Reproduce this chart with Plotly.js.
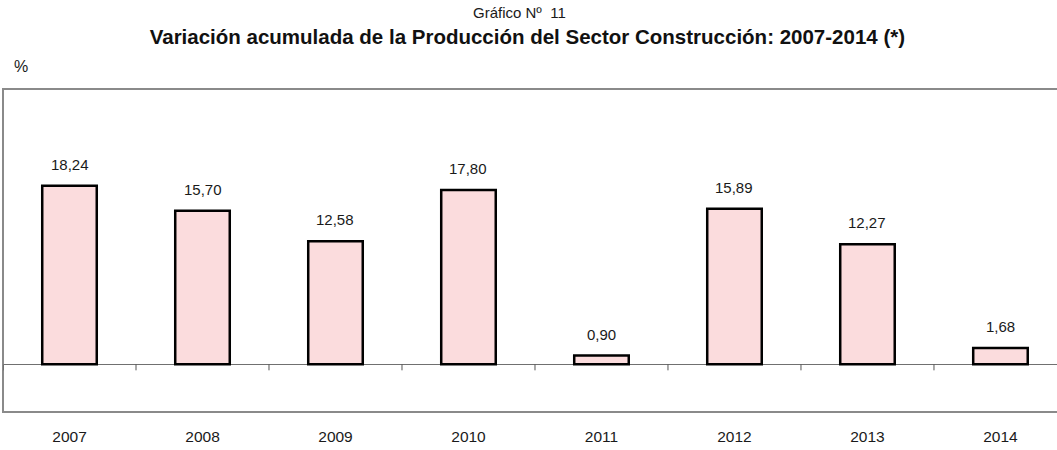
<!DOCTYPE html>
<html>
<head>
<meta charset="utf-8">
<script src="https://cdn.plot.ly/plotly-3.0.1.min.js"></script>
<style>html,body{margin:0;padding:0;background:#fff;}#chart{width:1057px;height:450px;}</style>
</head>
<body>
<div id="chart"></div>
<script>
const years = ["2007","2008","2009","2010","2011","2012","2013","2014"];
const values = [18.24, 15.70, 12.58, 17.80, 0.90, 15.89, 12.27, 1.68];
const chartNumber = "Gráfico Nº  11";
const chartTitle = "Variación acumulada de la Producción del Sector Construcción: 2007-2014 (*)";
const unitLabel = "%";

const FONT = '"Liberation Sans", Arial, sans-serif';

const fmt = v => v.toFixed(2).replace('.', ',');
const idx = years.map((y, i) => i);
const boundaries = years.map((y, i) => i - 0.5);

const trace = {
  type: 'bar',
  x: idx,
  y: values,
  width: 0.41,
  marker: {color: '#fbdcdd', line: {color: '#000000', width: 2.5}},
  hoverinfo: 'none'
};

const labelAnns = idx.map(i => ({
  x: i, y: values[i], xref: 'x', yref: 'y',
  text: fmt(values[i]), showarrow: false,
  yanchor: 'bottom', yshift: 11,
  font: {family: FONT, size: 15, color: '#1a1a1a'}
}));

const tickShapes = boundaries.map(b => ({
  type: 'line', xref: 'x', yref: 'y', ysizemode: 'pixel', yanchor: 0,
  x0: b, x1: b, y0: 0, y1: -6,
  line: {color: '#555555', width: 1}, layer: 'above'
}));

const layout = {
  width: 1057, height: 450,
  margin: {l: 3, r: 0, t: 89, b: 38},
  paper_bgcolor: '#ffffff', plot_bgcolor: '#ffffff',
  showlegend: false,
  font: {family: FONT, color: '#1a1a1a'},
  title: {
    text: '<b>' + chartTitle + '</b>',
    font: {family: FONT, size: 20.5, color: '#111'},
    x: 0.4975, xanchor: 'center', xref: 'paper', y: 0.918, yanchor: 'middle', yref: 'container'
  },
  xaxis: {
    type: 'linear',
    range: [-0.5, 7.425],
    tickmode: 'array', tickvals: idx, ticktext: years,
    showgrid: false, zeroline: false, showline: false,
    ticks: 'outside', ticklen: 10, tickcolor: 'rgba(0,0,0,0)',
    tickfont: {family: FONT, size: 15.5, color: '#1a1a1a'},
    fixedrange: true
  },
  yaxis: {
    range: [-4.87, 28.13],
    showgrid: false, showticklabels: false, ticks: '',
    zeroline: true, zerolinecolor: '#707070', zerolinewidth: 1,
    showline: false, fixedrange: true
  },
  shapes: [
    {type: 'rect', xref: 'paper', yref: 'paper', x0: 0, x1: 1.02, y0: 0, y1: 1,
     line: {color: '#8a8a8a', width: 2}, fillcolor: 'rgba(0,0,0,0)', layer: 'above'}
  ].concat(tickShapes),
  annotations: [
    {text: chartNumber, xref: 'paper', yref: 'paper', x: 0.4905, y: 1.238, xanchor: 'center', yanchor: 'middle',
     showarrow: false, font: {family: FONT, size: 15, color: '#1a1a1a'}},
    {text: unitLabel, xref: 'paper', yref: 'paper', x: 0.009, y: 1.07, xanchor: 'left', yanchor: 'middle',
     showarrow: false, font: {family: FONT, size: 16, color: '#1a1a1a'}}
  ].concat(labelAnns)
};

Plotly.newPlot('chart', [trace], layout, {displayModeBar: false, staticPlot: true});
</script>
</body>
</html>
